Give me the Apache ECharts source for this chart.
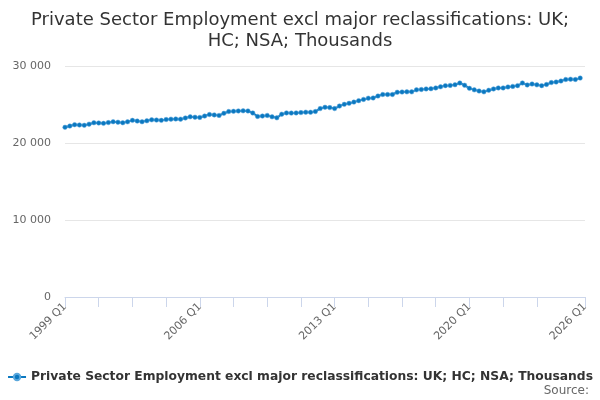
<!DOCTYPE html>
<html>
<head>
<meta charset="utf-8">
<title>Private Sector Employment</title>
<script src="https://cdn.jsdelivr.net/npm/echarts@6/dist/echarts.min.js"></script>
<style>
  html, body { margin: 0; padding: 0; background: #fff; }
  #chart { width: 600px; height: 400px; }
</style>
</head>
<body>
<div id="chart"></div>
<script>
// quarters 1999 Q1 .. 2026 Q1 (last one has no value yet)
var startYear = 1999;
var endYear = 2026;
var quarters = [];
for (var y = startYear; y <= endYear; y++) {
  for (var q = 1; q <= 4; q++) {
    if (y === endYear && q > 1) break;
    quarters.push(y + ' Q' + q);
  }
}

// thousands
var employment = [
  22040, 22200, 22380, 22340,   // 1999
  22300, 22450, 22630, 22600,   // 2000
  22550, 22650, 22760, 22700,   // 2001
  22630, 22750, 22940, 22850,   // 2002
  22760, 22880, 23010, 22980,   // 2003
  22940, 23050, 23100, 23120,   // 2004
  23100, 23250, 23400, 23350,   // 2005
  23320, 23500, 23700, 23650,   // 2006
  23580, 23850, 24090, 24120,   // 2007
  24160, 24180, 24160, 23900,   // 2008
  23450, 23500, 23580, 23400,   // 2009
  23270, 23740, 23910, 23880,   // 2010
  23910, 23950, 24000, 23990,   // 2011
  24090, 24470, 24640, 24600,   // 2012
  24470, 24800, 25020, 25150,   // 2013
  25310, 25500, 25660, 25820,   // 2014
  25850, 26100, 26300, 26300,   // 2015
  26300, 26590, 26620, 26640,   // 2016
  26640, 26900, 26950, 27020,   // 2017
  27050, 27150, 27300, 27450,   // 2018
  27480, 27570, 27790, 27500,   // 2019
  27100, 26900, 26750, 26640,   // 2020
  26850, 27020, 27150, 27150,   // 2021
  27280, 27350, 27450, 27790,   // 2022
  27540, 27660, 27550, 27450,   // 2023
  27600, 27850, 27920, 28050,   // 2024
  28250, 28280, 28250, 28430    // 2025
];

var yTicks = [0, 10000, 20000, 30000];
var seriesName = 'Private Sector Employment excl major reclassifications: UK; HC; NSA; Thousands';
var lastIdx = quarters.length - 1;

var chart = echarts.init(document.getElementById('chart'));
chart.setOption({
  animation: false,
  textStyle: { fontFamily: 'DejaVu Sans' },
  title: {
    text: 'Private Sector Employment excl major reclassifications: UK;\nHC; NSA; Thousands',
    left: 'center',
    top: 5,
    textStyle: { fontSize: 18, fontWeight: 'normal', color: '#333333', lineHeight: 21 }
  },
  grid: { left: 65, right: 15, top: 66, bottom: 103 },
  legend: {
    data: [seriesName],
    left: 'center',
    top: 366,
    itemWidth: 18,
    itemHeight: 8,
    itemGap: 6,
    textStyle: { fontSize: 12.3, fontWeight: 'bold', color: '#333333' }
  },
  graphic: [{
    type: 'text',
    right: 11,
    top: 385,
    style: { text: 'Source:', fontSize: 12, fill: '#666666', fontFamily: 'DejaVu Sans' }
  }],
  xAxis: {
    type: 'category',
    data: quarters,
    boundaryGap: false,
    axisLine: { lineStyle: { color: '#ccd6eb' } },
    axisTick: {
      length: 10,
      lineStyle: { color: '#ccd6eb' },
      interval: function (i) { return (i % 7 === 0 && i <= 98) || i === lastIdx; }
    },
    axisLabel: {
      rotate: 45,
      color: '#666666',
      fontSize: 11,
      margin: 8,
      interval: function (i) { return i % 28 === 0 || i === lastIdx; }
    },
    splitLine: { show: false }
  },
  yAxis: {
    type: 'value',
    min: yTicks[0],
    max: yTicks[yTicks.length - 1],
    interval: 10000,
    axisLine: { show: false },
    axisTick: { show: false },
    axisLabel: {
      color: '#666666',
      fontSize: 11,
      margin: 14,
      formatter: function (v) { return String(v).replace(/\B(?=(\d{3})+(?!\d))/g, ' '); }
    },
    splitLine: { lineStyle: { color: '#e6e6e6' } }
  },
  series: [{
    name: seriesName,
    type: 'line',
    data: employment,
    symbol: 'circle',
    symbolSize: 4.5,
    showSymbol: true,
    showAllSymbol: true,
    color: '#0b78c0',
    lineStyle: { width: 2, color: '#0b78c0' },
    itemStyle: { color: '#0b78c0', borderColor: '#5aa7dc', borderWidth: 0.5 }
  }]
});
</script>
</body>
</html>
